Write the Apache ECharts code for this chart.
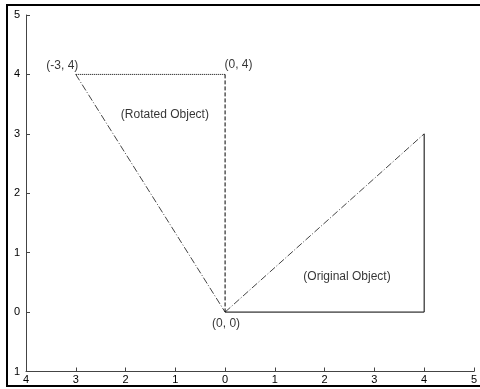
<!DOCTYPE html>
<html><head><meta charset="utf-8">
<script src="https://cdn.jsdelivr.net/npm/echarts@6/dist/echarts.min.js"></script>
<style>html,body{margin:0;padding:0;background:#fff}#c{width:480px;height:389px}</style>
</head><body><div id="c"></div>
<script>
// Original object vertices
const origHyp = [[0, 0], [4, 3]];
const origVert = [[4, 3], [4, 0]];
const origBase = [[4, 0], [0, 0]];
// Rotated object vertices
const rotHyp = [[-3, 4], [0, 0]];
const rotTop = [[-3, 4], [0, 4]];
const rotVert = [[0, 4], [0, 0]];
// Annotations
const annotTexts = ['(-3, 4)', '(0, 4)', '(0, 0)', '(Rotated Object)', '(Original Object)'];
const annotX = [-3.27, 0.27, 0.02, -1.21, 2.45];
const annotY = [4.14, 4.17, -0.19, 3.33, 0.60];
// Axis ranges
const xMin = -4, xMax = 5, yMin = -1, yMax = 5;

const chart = echarts.init(document.getElementById('c'));
const ff = 'Liberation Sans, Arial, sans-serif';
function seg(data, type, color) {
  return { type: 'line', data: data, symbol: 'none', silent: true, animation: false,
    lineStyle: { width: 1, color: color || '#000', type: type } };
}
chart.setOption({
  animation: false,
  grid: { left: 26, right: 1, top: 15, bottom: 17.5 },
  xAxis: { type: 'value', min: xMin, max: xMax, interval: 1,
    axisLine: { onZero: false, lineStyle: { color: '#444', width: 1 } },
    axisTick: { inside: true, length: 4, lineStyle: { color: '#444' } },
    axisLabel: { color: '#000', fontSize: 11, fontFamily: ff, margin: 3,
      formatter: v => String(Math.abs(v)) },
    splitLine: { show: false } },
  yAxis: { type: 'value', min: yMin, max: yMax, interval: 1,
    axisLine: { show: true, onZero: false, lineStyle: { color: '#444', width: 1 } },
    axisTick: { show: true, inside: true, length: 4, lineStyle: { color: '#444' } },
    axisLabel: { color: '#000', fontSize: 11, fontFamily: ff, margin: 6,
      formatter: v => String(Math.abs(v)) },
    splitLine: { show: false } },
  graphic: [{ type: 'rect', shape: { x: 7, y: 5, width: 490, height: 381 },
    style: { fill: 'none', stroke: '#000', lineWidth: 2 }, silent: true }],
  series: [
    seg(origHyp, [7, 2, 1, 2], '#444'),
    seg(origVert, 'solid'),
    seg(origBase, 'solid'),
    seg(rotHyp, [7, 2, 1, 2], '#444'),
    seg(rotTop, [1, 1]),
    seg(rotVert, [4, 2]),
    { type: 'scatter', symbolSize: 0, silent: true, animation: false,
      data: annotTexts.map((t, i) => ({ value: [annotX[i], annotY[i]], name: t })),
      label: { show: true, position: 'inside', formatter: p => p.name,
        color: '#000', fontSize: 12, fontFamily: ff } }
  ]
});
</script></body></html>
